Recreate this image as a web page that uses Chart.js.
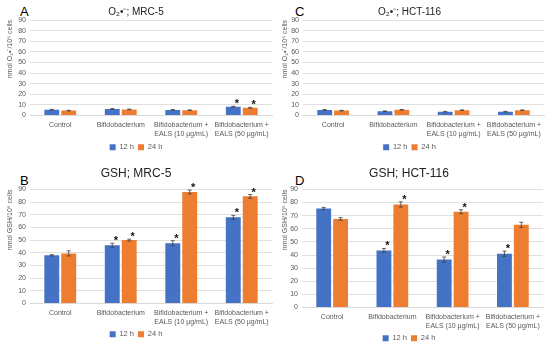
<!DOCTYPE html>
<html>
<head>
<meta charset="utf-8">
<script src="https://cdn.jsdelivr.net/npm/chart.js@4"></script>
<style>
  html, body { margin: 0; padding: 0; background: #fff; }
  body { width: 550px; height: 345px; position: relative; overflow: hidden; font-family: "Liberation Sans", Arial, sans-serif; }
  canvas { position: absolute; }
  .tag { position: absolute; font-size: 13px; color: #000; line-height: 1; }
</style>
</head>
<body>
<div class="tag" style="left:20px;top:5px;">A</div>
<div class="tag" style="left:295px;top:5px;">C</div>
<div class="tag" style="left:20px;top:174px;">B</div>
<div class="tag" style="left:295px;top:174px;">D</div>
<canvas id="chartA" width="275" height="161" style="left:0;top:0;"></canvas>
<canvas id="chartC" width="275" height="161" style="left:275px;top:0;"></canvas>
<canvas id="chartB" width="275" height="188" style="left:0;top:160px;"></canvas>
<canvas id="chartD" width="275" height="192" style="left:275px;top:160px;"></canvas>
<script>
const categories = ['Control', 'Bifidobacterium', ['Bifidobacterium +', 'EALS (10 µg/mL)'], ['Bifidobacterium +', 'EALS (50 µg/mL)']];
const seriesLabels = ['12 h', '24 h'];

// A: O2 radical, MRC-5
const o2Mrc12 = [5.5, 6.2, 5.3, 8.3];
const o2Mrc24 = [4.6, 5.7, 5.0, 7.3];
const o2Mrc12Err = [0.3, 0.3, 0.3, 0.4];
const o2Mrc24Err = [0.3, 0.3, 0.3, 0.4];
const o2Mrc12Sig = [false, false, false, true];
const o2Mrc24Sig = [false, false, false, true];

// C: O2 radical, HCT-116
const o2Hct12 = [5.3, 4.0, 3.6, 3.6];
const o2Hct24 = [4.6, 5.4, 5.0, 5.0];
const o2Hct12Err = [0.3, 0.3, 0.3, 0.3];
const o2Hct24Err = [0.3, 0.3, 0.3, 0.3];
const o2Hct12Sig = [false, false, false, false];
const o2Hct24Sig = [false, false, false, false];

// B: GSH, MRC-5
const gshMrc12 = [38, 46, 47.5, 68];
const gshMrc24 = [39.5, 50, 88, 84.5];
const gshMrc12Err = [0.5, 1.5, 2, 1.5];
const gshMrc24Err = [2, 0.7, 1.5, 1.5];
const gshMrc12Sig = [false, true, true, true];
const gshMrc24Sig = [false, true, true, true];

// D: GSH, HCT-116
const gshHct12 = [75.5, 43.5, 36.5, 41];
const gshHct24 = [67.5, 78.5, 73, 63];
const gshHct12Err = [0.8, 1.5, 2, 2];
const gshHct24Err = [1, 2, 1.5, 2];
const gshHct12Sig = [false, true, true, true];
const gshHct24Sig = [false, true, true, false];

const BLUE = '#4472C4';
const ORANGE = '#ED7D31';
const FONT = '"Liberation Sans", Arial, sans-serif';

// error bars + significance marks, placed with the y scale
const errorBarPlugin = {
  id: 'errorBars',
  afterDatasetsDraw(chart) {
    const ctx = chart.ctx;
    const y = chart.scales.y;
    chart.data.datasets.forEach((ds, di) => {
      const meta = chart.getDatasetMeta(di);
      meta.data.forEach((bar, i) => {
        const v = ds.data[i];
        const e = ds.errors[i];
        const top = y.getPixelForValue(v + e);
        const bot = y.getPixelForValue(v - e);
        ctx.save();
        ctx.strokeStyle = '#404040';
        ctx.lineWidth = 0.8;
        ctx.beginPath();
        ctx.moveTo(bar.x, top); ctx.lineTo(bar.x, bot);
        ctx.moveTo(bar.x - 2, top); ctx.lineTo(bar.x + 2, top);
        ctx.moveTo(bar.x - 2, bot); ctx.lineTo(bar.x + 2, bot);
        ctx.stroke();
        if (ds.sig[i]) {
          ctx.fillStyle = '#111';
          ctx.font = 'bold 11px ' + FONT;
          ctx.textAlign = 'center';
          ctx.textBaseline = 'middle';
          ctx.fillText('*', bar.x + 3.5, top - 2);
        }
        ctx.restore();
      });
    });
  }
};

function makePanel(id, title, titleSize, titlePad, yTitle, s12, s24, e12, e24, sig12, sig24, box) {
  return new Chart(document.getElementById(id), {
    type: 'bar',
    data: {
      labels: categories,
      datasets: [
        { label: seriesLabels[0], data: s12, errors: e12, sig: sig12, backgroundColor: BLUE,
          categoryPercentage: 0.56, barPercentage: 0.88 },
        { label: seriesLabels[1], data: s24, errors: e24, sig: sig24, backgroundColor: ORANGE,
          categoryPercentage: 0.56, barPercentage: 0.88 }
      ]
    },
    plugins: [errorBarPlugin],
    options: {
      responsive: false,
      animation: false,
      layout: { padding: { left: 0, right: box.right, top: 0, bottom: 0 } },
      plugins: {
        title: {
          display: true, text: title, color: '#222',
          font: { family: FONT, size: titleSize, weight: 'normal' },
          padding: titlePad
        },
        legend: {
          position: 'bottom',
          labels: {
            boxWidth: 6, boxHeight: 6, padding: 4, color: '#595959',
            font: { family: FONT, size: 7.5 }
          }
        },
        tooltip: { enabled: false }
      },
      scales: {
        x: {
          grid: { display: false, drawTicks: false },
          border: { color: '#d9d9d9' },
          ticks: { color: '#595959', padding: 5, maxRotation: 0, autoSkip: false,
            font: { family: FONT, size: 7, lineHeight: 1.25 } },
          afterFit(scale) { scale.height = box.xh; }
        },
        y: {
          min: 0, max: 90,
          grid: { color: '#e0e0e0', drawTicks: false },
          border: { display: false },
          ticks: { stepSize: 10, autoSkip: false, color: '#595959', padding: 4,
            font: { family: FONT, size: 7 } },
          title: { display: true, text: yTitle, color: '#595959', align: 'end',
            padding: { top: 6, bottom: 0 }, font: { family: FONT, size: 7 } },
          afterFit(scale) { scale.width = box.yw; }
        }
      }
    }
  });
}

makePanel('chartA', 'O₂•⁻; MRC-5', 10, { top: 6, bottom: 2 }, 'nmol O₂•⁻/10⁶ cells',
  o2Mrc12, o2Mrc24, o2Mrc12Err, o2Mrc24Err, o2Mrc12Sig, o2Mrc24Sig,
  { right: 3, xh: 24, yw: 30 });
makePanel('chartC', 'O₂•⁻; HCT-116', 10, { top: 6, bottom: 2 }, 'nmol O₂•⁻/10⁶ cells',
  o2Hct12, o2Hct24, o2Hct12Err, o2Hct24Err, o2Hct12Sig, o2Hct24Sig,
  { right: 6, xh: 24, yw: 28 });
makePanel('chartB', 'GSH; MRC-5', 12, { top: 6, bottom: 9 }, 'nmol GSH/10⁶ cells',
  gshMrc12, gshMrc24, gshMrc12Err, gshMrc24Err, gshMrc12Sig, gshMrc24Sig,
  { right: 3, xh: 23, yw: 30 });
makePanel('chartD', 'GSH; HCT-116', 12, { top: 6, bottom: 9 }, 'nmol GSH/10⁶ cells',
  gshHct12, gshHct24, gshHct12Err, gshHct24Err, gshHct12Sig, gshHct24Sig,
  { right: 7, xh: 23, yw: 27 });
</script>
</body>
</html>
